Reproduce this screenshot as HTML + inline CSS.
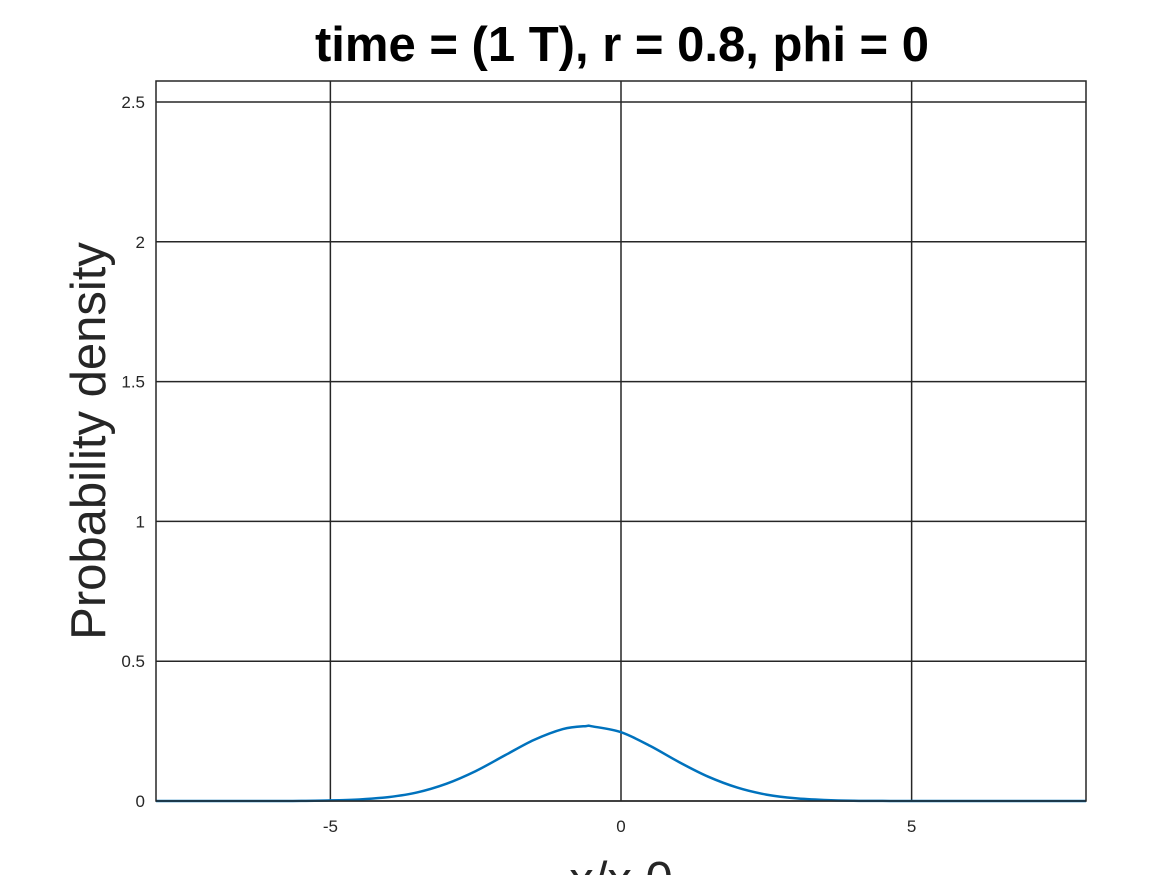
<!DOCTYPE html>
<html><head><meta charset="utf-8"><style>
html,body{margin:0;padding:0;background:#fff;}
svg{display:block;font-family:"Liberation Sans",sans-serif;}
</style></head><body>
<svg id="chart" width="1167" height="875">
<rect width="1167" height="875" fill="#fff"/>
<g id="grid"></g>
<g id="ticks"></g>
<path id="curve" fill="none" stroke="#0072BD" stroke-width="2.5"/>
<rect x="156" y="81" width="930" height="720" fill="none" stroke="#262626" stroke-width="1.5"/>
<text x="622" y="61" text-anchor="middle" font-size="49" font-weight="bold" fill="#000">time = (1 T), r = 0.8, phi = 0</text>
<text transform="translate(105,441) rotate(-90)" text-anchor="middle" font-size="49" fill="#262626">Probability density</text>
<text x="621" y="896" text-anchor="middle" font-size="49" fill="#262626">x/x  0</text>
</svg>
<script>
const xs=[-8,-7,-6,-5.5,-5,-4.5,-4,-3.5,-3,-2.5,-2,-1.5,-1,-0.6,-0.5,0,0.5,1,1.5,2,2.5,3,3.5,4,4.5,5,6,7,8];
const ys=[0,0,0,0.0005,0.002,0.0055,0.014,0.031,0.062,0.107,0.163,0.218,0.257,0.268,0.267,0.246,0.197,0.139,0.087,0.048,0.023,0.0098,0.0037,0.001,0.0003,0,0,0,0];
const xTicks=[-5,0,5];
const yTicks=[0,0.5,1,1.5,2,2.5];
const X0=156,X1=1086,Y0=801,Y1=81,XMIN=-8,XMAX=8,YMIN=0,YMAX=2.575;
const sx=v=>X0+(v-XMIN)/(XMAX-XMIN)*(X1-X0);
const sy=v=>Y0-(v-YMIN)/(YMAX-YMIN)*(Y0-Y1);
const NS="http://www.w3.org/2000/svg";
const grid=document.getElementById('grid'),ticks=document.getElementById('ticks');
xTicks.forEach(t=>{
 const l=document.createElementNS(NS,'line');
 l.setAttribute('x1',sx(t));l.setAttribute('x2',sx(t));l.setAttribute('y1',Y1);l.setAttribute('y2',Y0);
 l.setAttribute('stroke','#262626');l.setAttribute('stroke-width','1.5');
 
 
 grid.appendChild(l);
 const tx=document.createElementNS(NS,'text');
 tx.setAttribute('x',sx(t));tx.setAttribute('y',832);tx.setAttribute('text-anchor','middle');
 tx.setAttribute('font-size','17');tx.setAttribute('fill','#262626');tx.textContent=t;
 
 
 ticks.appendChild(tx);
});
yTicks.forEach(t=>{
 const l=document.createElementNS(NS,'line');
 l.setAttribute('x1',X0);l.setAttribute('x2',X1);l.setAttribute('y1',sy(t));l.setAttribute('y2',sy(t));
 l.setAttribute('stroke','#262626');l.setAttribute('stroke-width','1.5');
 
 
 grid.appendChild(l);
 const tx=document.createElementNS(NS,'text');
 tx.setAttribute('x',145);tx.setAttribute('y',sy(t)+6);tx.setAttribute('text-anchor','end');
 tx.setAttribute('font-size','17');tx.setAttribute('fill','#262626');tx.textContent=t;
 
 
 ticks.appendChild(tx);
});
// smooth Catmull-Rom path through data points
const P=xs.map((x,i)=>[sx(x),sy(ys[i])]);
let d='M'+P[0][0].toFixed(1)+','+P[0][1].toFixed(1);
for(let i=0;i<P.length-1;i++){
 const p0=P[Math.max(0,i-1)],p1=P[i],p2=P[i+1],p3=P[Math.min(P.length-1,i+2)];
 const c1=[p1[0]+(p2[0]-p0[0])/6,p1[1]+(p2[1]-p0[1])/6];
 const c2=[p2[0]-(p3[0]-p1[0])/6,p2[1]-(p3[1]-p1[1])/6];
 c1[1]=Math.min(c1[1],Y0);c2[1]=Math.min(c2[1],Y0);
 d+='C'+c1[0].toFixed(1)+','+c1[1].toFixed(1)+' '+c2[0].toFixed(1)+','+c2[1].toFixed(1)+' '+p2[0].toFixed(1)+','+p2[1].toFixed(1);
}
document.getElementById('curve').setAttribute('d',d);
</script>
</body></html>
